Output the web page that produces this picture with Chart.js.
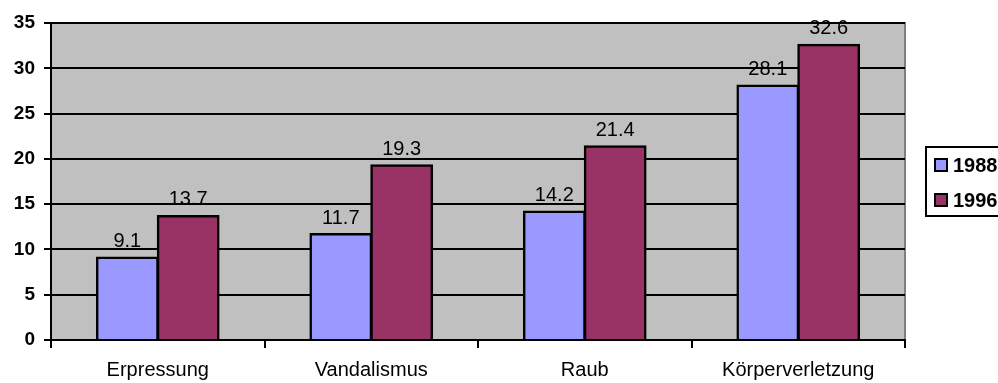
<!DOCTYPE html>
<html>
<head>
<meta charset="utf-8">
<script src="https://cdn.jsdelivr.net/npm/chart.js@4"></script>
<style>
    html, body { margin: 0; padding: 0; background: #fff; overflow: hidden; }
    #chart { display: block; }
</style>
</head>
<body>
<canvas id="chart" width="998" height="383"></canvas>
<script>
// Daten
const categories = ['Erpressung', 'Vandalismus', 'Raub', 'Körperverletzung'];
const values1988 = [9.1, 11.7, 14.2, 28.1];
const values1996 = [13.7, 19.3, 21.4, 32.6];
const seriesNames = ['1988', '1996'];
const seriesColors = ['#9999FF', '#993366'];

const FONT = '"Liberation Sans", Arial, sans-serif';

// Grauer Hintergrund + Rahmen oben/rechts
const plotBackground = {
    id: 'plotBackground',
    beforeDraw(chart) {
        const { ctx, chartArea: a } = chart;
        ctx.save();
        ctx.fillStyle = '#C0C0C0';
        ctx.fillRect(a.left, a.top, a.right - a.left, a.bottom - a.top);
        ctx.strokeStyle = '#808080';
        ctx.lineWidth = 2;
        ctx.beginPath();
        ctx.moveTo(a.left, a.top);
        ctx.lineTo(a.right, a.top);
        ctx.lineTo(a.right, a.bottom);
        ctx.stroke();
        ctx.restore();
    }
};

// Werte über den Balken
const valueLabels = {
    id: 'valueLabels',
    afterDatasetsDraw(chart) {
        const ctx = chart.ctx;
        ctx.save();
        ctx.font = '20px ' + FONT;
        ctx.fillStyle = '#000';
        ctx.textAlign = 'center';
        ctx.textBaseline = 'bottom';
        chart.data.datasets.forEach((ds, i) => {
            chart.getDatasetMeta(i).data.forEach((bar, j) => {
                ctx.fillText(ds.data[j].toFixed(1), bar.x, bar.y - 6);
            });
        });
        ctx.restore();
    }
};

// Legende rechts (wie im Original am Rand abgeschnitten)
const sideLegend = {
    id: 'sideLegend',
    afterDraw(chart) {
        const ctx = chart.ctx;
        const a = chart.chartArea;
        const x = a.right + 21, y = 147;
        ctx.save();
        ctx.strokeStyle = '#000';
        ctx.lineWidth = 2;
        ctx.strokeRect(x, y, 120, 69);
        ctx.font = 'bold 20px ' + FONT;
        ctx.textBaseline = 'middle';
        chart.data.datasets.forEach((ds, i) => {
            const cy = y + 18 + i * 35;
            ctx.fillStyle = ds.backgroundColor;
            ctx.fillRect(x + 9, cy - 6, 12, 12);
            ctx.lineWidth = 2;
            ctx.strokeRect(x + 9, cy - 6, 12, 12);
            ctx.fillStyle = '#000';
            ctx.fillText(ds.label, x + 27, cy + 1);
        });
        ctx.restore();
    }
};

new Chart(document.getElementById('chart'), {
    type: 'bar',
    data: {
        labels: categories,
        datasets: [
            { label: seriesNames[0], data: values1988, backgroundColor: seriesColors[0] },
            { label: seriesNames[1], data: values1996, backgroundColor: seriesColors[1] }
        ]
    },
    options: {
        responsive: false,
        animation: false,
        layout: { padding: { top: 23, right: 93, left: 0, bottom: 0 } },
        datasets: {
            bar: {
                borderColor: '#000',
                borderWidth: 2.5,
                inflateAmount: 1,
                barPercentage: 1,
                categoryPercentage: 0.57
            }
        },
        plugins: {
            legend: { display: false },
            tooltip: { enabled: false }
        },
        scales: {
            x: {
                afterFit(scale) { scale.height = 43; },
                grid: {
                    drawOnChartArea: false,
                    drawTicks: true,
                    tickLength: 8,
                    color: '#000',
                    lineWidth: 2
                },
                border: { color: '#000', width: 2 },
                ticks: {
                    color: '#000',
                    padding: 10,
                    font: { family: FONT, size: 20 },
                    maxRotation: 0
                }
            },
            y: {
                min: 0,
                max: 35,
                afterFit(scale) { scale.width = 51; },
                grid: {
                    color: '#000',
                    lineWidth: 2,
                    tickLength: 7
                },
                border: { color: '#000', width: 2 },
                ticks: {
                    stepSize: 5,
                    color: '#000',
                    padding: 9,
                    font: { family: FONT, size: 19, weight: 'bold' }
                }
            }
        }
    },
    plugins: [plotBackground, valueLabels, sideLegend]
});
</script>
</body>
</html>
